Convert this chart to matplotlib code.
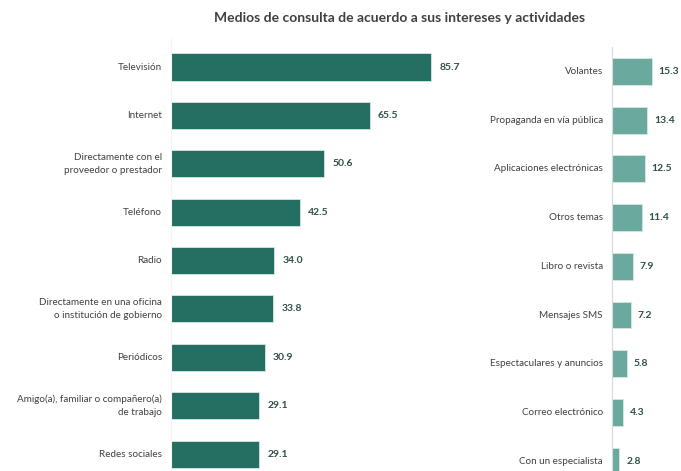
import matplotlib
matplotlib.use("Agg")
import matplotlib.pyplot as plt

plt.rcParams['font.family'] = ['Lato', 'DejaVu Sans']

# datos (porcentajes)
left_labels = ['Televisión', 'Internet', 'Directamente con el\nproveedor o prestador', 'Teléfono', 'Radio',
               'Directamente en una oficina\no institución de gobierno', 'Periódicos',
               'Amigo(a), familiar o compañero(a)\nde trabajo', 'Redes sociales']
left_values = [85.7, 65.5, 50.6, 42.5, 34.0, 33.8, 30.9, 29.1, 29.1]

right_labels = ['Volantes', 'Propaganda en vía pública', 'Aplicaciones electrónicas', 'Otros temas',
                'Libro o revista', 'Mensajes SMS', 'Espectaculares y anuncios', 'Correo electrónico',
                'Con un especialista']
right_values = [15.3, 13.4, 12.5, 11.4, 7.9, 7.2, 5.8, 4.3, 2.8]

title = 'Medios de consulta de acuerdo a sus intereses y actividades'

W, H = 681, 471
fig = plt.figure(figsize=(W / 100, H / 100), dpi=100)
fig.patch.set_facecolor('white')

label_color = '#404040'
value_color = '#2f4f4a'

def draw(ax, labels, values, color, bh, xmax, ylim, spine_color, voff):
    ypos = [-i for i in range(len(values))]
    ax.barh(ypos, values, height=bh, color=color, edgecolor='#d8e6e3', linewidth=0.6)
    ax.set_xlim(0, xmax)
    ax.set_ylim(*ylim)
    for y, v, lab in zip(ypos, values, labels):
        ax.annotate('%.1f' % v, (v, y), xytext=(voff, 0), textcoords='offset points',
                    va='center', ha='left', fontsize=7.5, fontweight='bold', color=value_color)
        ax.annotate(lab, (0, y), xytext=(-6.5, 0), textcoords='offset points',
                    va='center', ha='right', fontsize=7.1, color=label_color, linespacing=1.5)
    for s in ['top', 'right', 'bottom']:
        ax.spines[s].set_visible(False)
    ax.spines['left'].set_color(spine_color)
    ax.spines['left'].set_linewidth(0.8)
    ax.set_xticks([])
    ax.set_yticks([])

# panel izquierdo: 0..95 en 171..459 px
axl = fig.add_axes([171 / W, 0, 288 / W, (471 - 38) / H])
draw(axl, left_labels, left_values, '#246e62', 0.56, 95, (-8.35, 0.6), '#f4f4f4', 6)

# panel derecho
axr = fig.add_axes([612 / W, 0, 69 / W, (471 - 47) / H])
draw(axr, right_labels, right_values, '#6aaa9e', 0.55, 26.5, (-8.2, 0.5), '#d9d9d9', 5)

fig.text(400 / W, 1 - 18 / H, title, ha='center', va='center', fontsize=10,
         fontweight='bold', color='#404040')

fig.savefig('out.png', dpi=100, facecolor='white')
